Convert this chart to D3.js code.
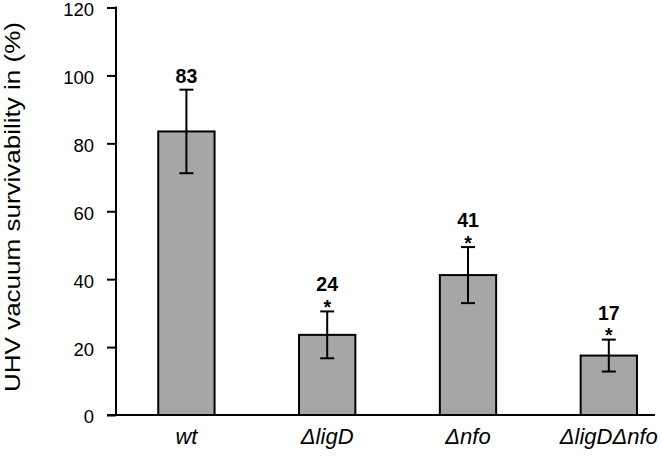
<!DOCTYPE html>
<html><head><meta charset="utf-8">
<script src="https://cdn.jsdelivr.net/npm/d3@7"></script>
<style>body{margin:0;background:#fff}svg{display:block}text{font-family:"Liberation Sans",Arial,sans-serif}</style>
</head><body>
<script>
const categories = ["wt", "\u0394ligD", "\u0394nfo", "\u0394ligD\u0394nfo"];
const values = [83.5, 23.6, 41.2, 17.5];
const errors = [12.3, 6.9, 8.25, 4.7];
const valueLabels = ["83", "24", "41", "17"];
const significant = [false, true, true, true];
const yTicks = [0, 20, 40, 60, 80, 100, 120];

const W = 661, H = 460;
const svg = d3.select("body").append("svg").attr("width", W).attr("height", H);
const x0 = 116, yTop = 7.5, yBot = 415;
const x = d3.scaleBand().domain(categories).range([x0, x0 + 4 * 140.8]).paddingInner(0.6).paddingOuter(0.3);
const y = d3.scaleLinear().domain([0, 120]).range([yBot, yTop]);

// y axis
const yAxis = d3.axisLeft(y).tickValues(yTicks).tickSize(9).tickPadding(13);
const ga = svg.append("g").attr("transform", `translate(${x0},0)`).call(yAxis);
ga.select(".domain").attr("stroke", "#000").attr("stroke-width", 2).attr("d", `M0,${yTop - 1}V${yBot}`);
ga.selectAll(".tick line").attr("stroke", "#000").attr("stroke-width", 2);
ga.selectAll(".tick text").attr("font-size", 18.5).attr("fill", "#000").attr("dy", "0.43em")
  .attr("font-family", "Liberation Sans, Arial, sans-serif");

// bars
const data = categories.map((c, i) => ({c, v: values[i], e: errors[i], l: valueLabels[i], s: significant[i]}));
svg.selectAll("rect.bar").data(data).enter().append("rect")
  .attr("x", d => x(d.c)).attr("width", x.bandwidth())
  .attr("y", d => y(d.v)).attr("height", d => y(0) - y(d.v))
  .attr("fill", "#a6a6a6").attr("stroke", "#000").attr("stroke-width", 2);

// x axis line
svg.append("line").attr("x1", x0 - 9).attr("x2", 655).attr("y1", yBot).attr("y2", yBot)
  .attr("stroke", "#000").attr("stroke-width", 2.2);

// error bars
const cx = d => x(d.c) + x.bandwidth() / 2;
const eg = svg.selectAll("g.err").data(data).enter().append("g");
eg.append("line").attr("x1", cx).attr("x2", cx).attr("y1", d => y(d.v + d.e)).attr("y2", d => y(d.v - d.e)).attr("stroke", "#000").attr("stroke-width", 2);
eg.append("line").attr("x1", d => cx(d) - 7).attr("x2", d => cx(d) + 7).attr("y1", d => y(d.v + d.e)).attr("y2", d => y(d.v + d.e)).attr("stroke", "#000").attr("stroke-width", 2);
eg.append("line").attr("x1", d => cx(d) - 7).attr("x2", d => cx(d) + 7).attr("y1", d => y(d.v - d.e)).attr("y2", d => y(d.v - d.e)).attr("stroke", "#000").attr("stroke-width", 2);

// value labels and significance stars
eg.append("text").attr("text-anchor", "middle").attr("font-size", 19.5).attr("font-weight", "bold")
  .attr("x", cx).attr("y", d => y(d.v + d.e) - (d.s ? 20 : 7)).text(d => d.l);
eg.filter(d => d.s).append("text").attr("text-anchor", "middle").attr("font-size", 19.5).attr("font-weight", "bold")
  .attr("x", cx).attr("y", d => y(d.v + d.e) + 2.5).text("*");

// x labels
svg.selectAll("text.xl").data(data).enter().append("text")
  .attr("x", cx).attr("y", 443.5).attr("text-anchor", "middle")
  .attr("font-size", 22).attr("font-style", "italic").text(d => d.c);

// y title
svg.append("text").attr("transform", `translate(19.5,207) rotate(-90)`)
  .attr("text-anchor", "middle").attr("font-size", 21.5)
  .attr("textLength", 370).attr("lengthAdjust", "spacingAndGlyphs")
  .text("UHV vacuum survivability in (%)");
</script>
</body></html>
